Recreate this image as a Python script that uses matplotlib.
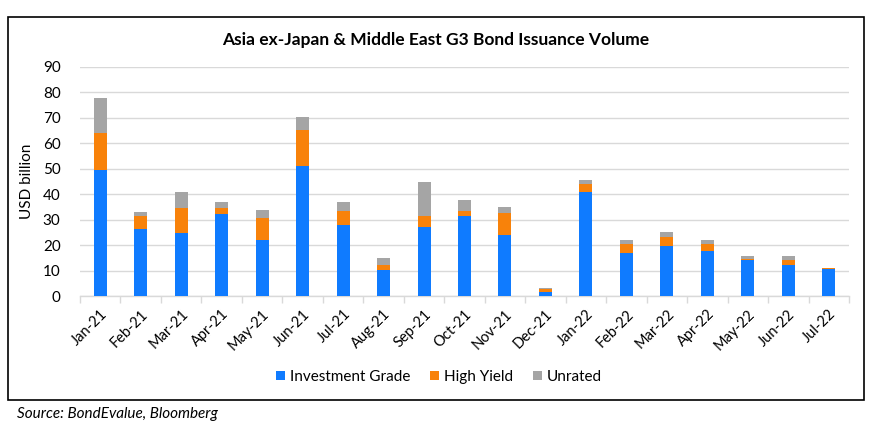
import matplotlib
matplotlib.use("Agg")
import matplotlib.pyplot as plt
from matplotlib.patches import Rectangle
import numpy as np

plt.rcParams['font.family'] = ['Lato', 'DejaVu Sans']

months = ["Jan-21", "Feb-21", "Mar-21", "Apr-21", "May-21", "Jun-21", "Jul-21",
          "Aug-21", "Sep-21", "Oct-21", "Nov-21", "Dec-21", "Jan-22", "Feb-22",
          "Mar-22", "Apr-22", "May-22", "Jun-22", "Jul-22"]
investment_grade = [49.5, 26.3, 24.7, 32.2, 21.9, 51.1, 27.8, 10.1, 27.0, 31.4,
                    23.9, 1.5, 40.8, 16.8, 19.6, 17.6, 14.1, 12.1, 10.5]
high_yield = [14.5, 5.1, 9.7, 2.2, 8.6, 14.1, 5.5, 2.0, 4.4, 1.9,
              8.7, 1.1, 3.2, 3.6, 3.5, 2.8, 0.3, 2.0, 0.4]
unrated = [13.8, 1.5, 6.4, 2.5, 3.2, 5.2, 3.6, 2.7, 13.4, 4.4,
           2.3, 0.4, 1.6, 1.5, 2.0, 1.5, 1.2, 1.5, 0.0]

c_ig = "#0F7BFF"
c_hy = "#F8820A"
c_un = "#A5A5A5"

fig = plt.figure(figsize=(8.82, 4.36), dpi=100)
W, H = 882, 436
ax = fig.add_axes([80 / W, 1 - 296 / H, (849 - 80) / W, (296 - 67) / H])

x = np.arange(len(months))
ig = np.array(investment_grade)
hy = np.array(high_yield)
un = np.array(unrated)
bw = 0.32
ax.bar(x, ig, bw, color=c_ig, label="Investment Grade", zorder=3)
ax.bar(x, hy, bw, bottom=ig, color=c_hy, label="High Yield", zorder=3)
ax.bar(x, un, bw, bottom=ig + hy, color=c_un, label="Unrated", zorder=3)

ax.set_xlim(-0.5, len(months) - 0.5)
ax.set_ylim(0, 90)
ax.set_yticks(range(0, 91, 10))
ax.yaxis.grid(True, color="#D9D9D9", linewidth=1, zorder=0)
for s in ["top", "right", "left"]:
    ax.spines[s].set_visible(False)
ax.spines["bottom"].set_color("#D9D9D9")
ax.spines["bottom"].set_linewidth(1)
ax.tick_params(axis="y", length=0, labelsize=11, colors="#000000", pad=14)
ax.set_xticks(x)
ax.set_xticklabels(months, rotation=45, ha="right", rotation_mode="anchor", fontsize=10.5)
ax.set_xticks(np.arange(-0.5, len(months), 1), minor=True)
ax.tick_params(axis="x", which="major", length=0, pad=8)
ax.tick_params(axis="x", which="minor", length=5, color="#D9D9D9", width=1)
ax.set_ylabel("USD billion", fontsize=11, labelpad=6)

fig.text(436 / W, 1 - 40 / H, "Asia ex-Japan & Middle East G3 Bond Issuance Volume",
         ha="center", va="center", fontsize=12.5, fontweight="bold")

leg = fig.legend(loc="center", bbox_to_anchor=(439 / W, 1 - 377 / H), ncol=3,
                 frameon=False, fontsize=11, handlelength=0.6, handleheight=0.6,
                 handletextpad=0.3, columnspacing=1.3)

fig.patches.append(Rectangle((8 / W, 1 - 400 / H), (864 - 8) / W, (400 - 17) / H,
                             transform=fig.transFigure, fill=False,
                             edgecolor="#000000", linewidth=1.2))

fig.text(17 / W, 1 - 414 / H, "Source: BondEvalue, Bloomberg", ha="left", va="center",
         fontsize=11, style="italic")

fig.savefig("out.png", dpi=100)
